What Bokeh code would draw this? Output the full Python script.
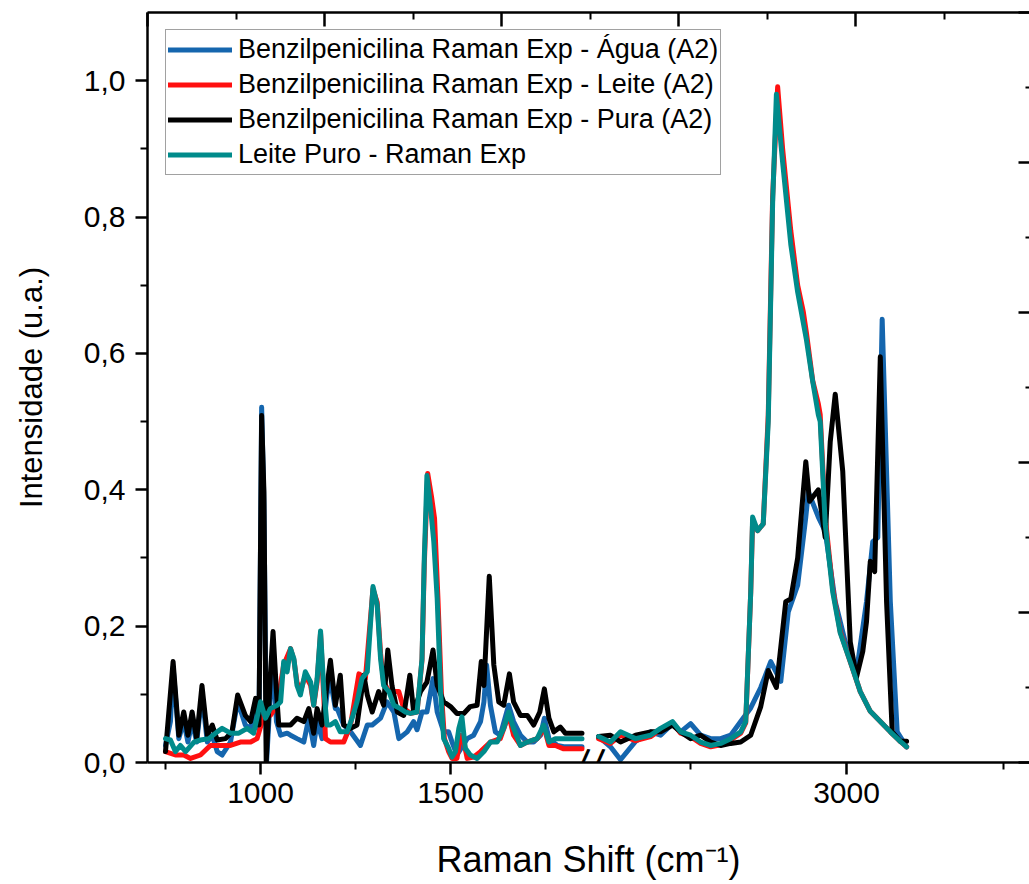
from bokeh.plotting import figure
from bokeh.models import (Range1d, LinearAxis, FixedTicker, CustomJSTickFormatter,
                          Label, Legend)
from bokeh.embed import file_html
from bokeh.resources import INLINE

# ---------------- data (Raman shift cm-1, intensity u.a.) ----------------
# left segment (fingerprint region)
agua_x_l = [750, 763, 770, 785, 798, 809, 820, 832, 846, 860, 873, 886, 899, 921, 940, 960, 974, 987, 996,
            1003, 1009, 1016, 1026, 1033, 1042, 1053, 1070, 1079, 1096, 1114, 1127, 1140, 1149, 1162, 1175,
            1184, 1197, 1202, 1219, 1237, 1263, 1281, 1294, 1316, 1333, 1351, 1364, 1386, 1403, 1412, 1425,
            1438, 1454, 1465, 1482, 1495, 1504, 1517, 1544, 1561, 1579, 1588, 1595, 1605, 1618, 1631, 1653,
            1666, 1684, 1702, 1719, 1737, 1747, 1759, 1781, 1798, 1846]
agua_y_l = [0.025, 0.060, 0.140, 0.035, 0.060, 0.030, 0.060, 0.030, 0.100, 0.030, 0.040, 0.016, 0.011, 0.030,
            0.090, 0.055, 0.050, 0.080, 0.050, 0.521, 0.380, 0.001, 0.100, 0.150, 0.060, 0.040, 0.043, 0.040,
            0.035, 0.030, 0.065, 0.025, 0.060, 0.035, 0.100, 0.120, 0.079, 0.079, 0.055, 0.045, 0.025, 0.055,
            0.055, 0.065, 0.089, 0.074, 0.035, 0.045, 0.060, 0.048, 0.074, 0.074, 0.123, 0.074, 0.045, 0.045,
            0.030, 0.011, 0.035, 0.040, 0.060, 0.089, 0.143, 0.084, 0.045, 0.040, 0.084, 0.060, 0.040, 0.030,
            0.030, 0.040, 0.065, 0.035, 0.025, 0.023, 0.023]

leite_x_l = [750, 776, 798, 816, 842, 868, 895, 921, 947, 974, 991, 1009, 1026, 1044, 1061, 1079, 1088, 1096,
             1105, 1118, 1132, 1140, 1149, 1158, 1167, 1171, 1184, 1202, 1219, 1237, 1259, 1276, 1296, 1307,
             1316, 1324, 1338, 1351, 1364, 1377, 1395, 1412, 1425, 1431, 1440, 1450, 1458, 1467, 1476, 1484,
             1495, 1504, 1517, 1526, 1535, 1544, 1561, 1579, 1605, 1631, 1653, 1666, 1684, 1702, 1728, 1747,
             1759, 1776, 1798, 1846]
leite_y_l = [0.016, 0.011, 0.011, 0.006, 0.011, 0.025, 0.025, 0.025, 0.030, 0.030, 0.035, 0.069, 0.069, 0.084,
             0.143, 0.167, 0.150, 0.118, 0.104, 0.128, 0.113, 0.084, 0.118, 0.190, 0.090, 0.035, 0.030, 0.030,
             0.030, 0.055, 0.130, 0.123, 0.255, 0.235, 0.160, 0.118, 0.104, 0.104, 0.104, 0.079, 0.072, 0.074,
             0.150, 0.290, 0.424, 0.390, 0.358, 0.240, 0.104, 0.035, 0.016, 0.006, 0.006, 0.040, 0.030, 0.006,
             0.008, 0.016, 0.030, 0.035, 0.070, 0.040, 0.025, 0.030, 0.035, 0.050, 0.025, 0.025, 0.020, 0.020]

pura_x_l = [750, 770, 785, 798, 809, 820, 832, 846, 860, 873, 886, 908, 925, 940, 960, 974, 987, 996, 1003,
            1009, 1015, 1026, 1033, 1042, 1048, 1061, 1079, 1096, 1114, 1127, 1140, 1149, 1162, 1175, 1184,
            1197, 1210, 1219, 1237, 1254, 1272, 1281, 1294, 1311, 1324, 1335, 1346, 1360, 1377, 1393, 1403,
            1421, 1438, 1454, 1465, 1482, 1500, 1517, 1535, 1552, 1570, 1581, 1588, 1602, 1614, 1627, 1640,
            1655, 1666, 1684, 1702, 1719, 1735, 1747, 1759, 1772, 1789, 1802, 1846]
pura_y_l = [0.016, 0.148, 0.040, 0.074, 0.040, 0.074, 0.035, 0.113, 0.040, 0.055, 0.033, 0.035, 0.045, 0.099,
            0.069, 0.060, 0.094, 0.055, 0.509, 0.397, 0.001, 0.128, 0.192, 0.104, 0.055, 0.055, 0.055, 0.065,
            0.060, 0.079, 0.043, 0.079, 0.055, 0.113, 0.150, 0.084, 0.128, 0.055, 0.050, 0.055, 0.128, 0.099,
            0.074, 0.104, 0.084, 0.165, 0.113, 0.074, 0.069, 0.128, 0.074, 0.104, 0.118, 0.165, 0.113, 0.089,
            0.082, 0.072, 0.072, 0.082, 0.084, 0.148, 0.113, 0.273, 0.143, 0.089, 0.084, 0.130, 0.089, 0.069,
            0.069, 0.055, 0.074, 0.108, 0.065, 0.045, 0.052, 0.043, 0.043]

leitepuro_x_l = [750, 763, 776, 789, 803, 825, 842, 864, 886, 899, 921, 943, 965, 982, 1000, 1013, 1026, 1044,
                 1053, 1061, 1070, 1079, 1088, 1096, 1105, 1118, 1132, 1140, 1149, 1158, 1167, 1175, 1184, 1197,
                 1210, 1228, 1241, 1254, 1267, 1281, 1296, 1307, 1316, 1324, 1338, 1351, 1368, 1381, 1395, 1412,
                 1425, 1431, 1438, 1447, 1456, 1465, 1474, 1482, 1495, 1504, 1513, 1522, 1530, 1539, 1552, 1570,
                 1588, 1605, 1623, 1640, 1653, 1666, 1684, 1702, 1728, 1745, 1759, 1776, 1798, 1846]
leitepuro_y_l = [0.035, 0.033, 0.016, 0.025, 0.016, 0.030, 0.033, 0.035, 0.045, 0.050, 0.043, 0.043, 0.050,
                 0.043, 0.089, 0.065, 0.079, 0.084, 0.089, 0.148, 0.133, 0.167, 0.152, 0.113, 0.099, 0.133,
                 0.118, 0.084, 0.123, 0.193, 0.104, 0.055, 0.055, 0.060, 0.045, 0.045, 0.065, 0.089, 0.123,
                 0.133, 0.258, 0.231, 0.152, 0.113, 0.104, 0.084, 0.079, 0.074, 0.072, 0.074, 0.152, 0.299,
                 0.421, 0.377, 0.324, 0.240, 0.104, 0.035, 0.021, 0.008, 0.016, 0.050, 0.067, 0.021, 0.011,
                 0.006, 0.016, 0.030, 0.030, 0.050, 0.074, 0.050, 0.025, 0.030, 0.035, 0.055, 0.030, 0.035,
                 0.035, 0.035]

# right segment (C-H stretching region)
agua_x_r = [2604, 2623, 2639, 2663, 2687, 2703, 2722, 2735, 2751, 2767, 2783, 2799, 2815, 2831, 2847, 2863,
            2879, 2895, 2907, 2922, 2935, 2939, 2955, 2966, 2982, 2998, 3016, 3032, 3042, 3050, 3057, 3070,
            3081, 3096]
agua_y_r = [0.038, 0.023, 0.004, 0.031, 0.045, 0.040, 0.057, 0.045, 0.057, 0.040, 0.035, 0.035, 0.040, 0.060,
            0.080, 0.110, 0.148, 0.119, 0.221, 0.260, 0.360, 0.397, 0.360, 0.339, 0.236, 0.177, 0.133, 0.236,
            0.324, 0.330, 0.650, 0.236, 0.045, 0.023]

leite_x_r = [2604, 2623, 2639, 2663, 2687, 2703, 2722, 2735, 2751, 2767, 2783, 2799, 2815, 2831, 2839, 2847,
             2850, 2858, 2867, 2875, 2882, 2890, 2898, 2911, 2922, 2931, 2936, 2946, 2955, 2958, 2966, 2978,
             2990, 3006, 3022, 3038, 3054, 3070, 3086, 3096]
leite_y_r = [0.035, 0.028, 0.040, 0.032, 0.038, 0.048, 0.058, 0.043, 0.038, 0.028, 0.023, 0.026, 0.033, 0.043,
             0.058, 0.250, 0.355, 0.340, 0.350, 0.510, 0.830, 0.991, 0.900, 0.780, 0.700, 0.661, 0.630, 0.560,
             0.526, 0.510, 0.360, 0.255, 0.192, 0.148, 0.104, 0.075, 0.060, 0.045, 0.031, 0.023]

pura_x_r = [2604, 2623, 2639, 2663, 2687, 2703, 2722, 2735, 2751, 2767, 2783, 2799, 2815, 2831, 2847, 2863,
            2875, 2888, 2903, 2911, 2922, 2935, 2941, 2955, 2966, 2974, 2982, 2994, 3006, 3016, 3026, 3032,
            3038, 3045, 3054, 3064, 3073, 3086, 3096]
pura_y_r = [0.038, 0.040, 0.030, 0.040, 0.045, 0.045, 0.055, 0.045, 0.035, 0.040, 0.030, 0.025, 0.028, 0.030,
            0.040, 0.082, 0.135, 0.110, 0.236, 0.240, 0.300, 0.441, 0.383, 0.400, 0.330, 0.470, 0.540, 0.427,
            0.177, 0.125, 0.163, 0.207, 0.295, 0.280, 0.595, 0.236, 0.045, 0.031, 0.031]

leitepuro_x_r = [2604, 2623, 2639, 2663, 2687, 2703, 2722, 2735, 2751, 2767, 2783, 2799, 2815, 2831, 2839,
                 2847, 2850, 2858, 2867, 2875, 2882, 2888, 2898, 2911, 2922, 2931, 2936, 2946, 2955, 2958,
                 2966, 2978, 2990, 3006, 3022, 3038, 3054, 3070, 3086, 3096]
leitepuro_y_r = [0.038, 0.030, 0.045, 0.035, 0.040, 0.050, 0.060, 0.045, 0.040, 0.030, 0.025, 0.028, 0.035,
                 0.045, 0.060, 0.250, 0.360, 0.340, 0.350, 0.500, 0.820, 0.980, 0.880, 0.760, 0.690, 0.645,
                 0.620, 0.559, 0.510, 0.500, 0.350, 0.250, 0.190, 0.148, 0.104, 0.075, 0.060, 0.045, 0.031,
                 0.023]

labels = ["Benzilpenicilina Raman Exp - Água (A2)",
          "Benzilpenicilina Raman Exp - Leite (A2)",
          "Benzilpenicilina Raman Exp - Pura (A2)",
          "Leite Puro - Raman Exp"]
colors = ["#1566AE", "#FF1010", "#000000", "#008B8B"]

left_major = [1000, 1500]
left_minor = [750, 1250, 1750]
right_major = [3000]
right_minor = [2750, 3250]
y_ticks = [0.0, 0.2, 0.4, 0.6, 0.8, 1.0]
y_minor = [0.1, 0.3, 0.5, 0.7, 0.9]
break_at = 1846      # end of left segment (left axis units)

# ---------------- layout constants ----------------
W_FIG, H_FIG = 1029, 884
LEFT, TOP, BOTTOM = 147, 12, 122
FRAME_W = W_FIG - LEFT
S_L = 0.38      # px per cm-1 (left segment)
S_R = 0.626     # px per cm-1 (right segment)
L0 = 1000 - 113 / S_L
L1 = L0 + FRAME_W / S_L
R0 = 3000 - 699 / S_R
R1 = R0 + FRAME_W / S_R

def r2l(v):
    return L0 + (v - R0) * S_R / S_L

FONT = "Liberation Sans"

p = figure(width=W_FIG, height=H_FIG, output_backend="svg", toolbar_location=None,
           x_range=Range1d(L0, L1), y_range=Range1d(0, 1.1),
           min_border_left=LEFT, min_border_top=TOP, min_border_bottom=BOTTOM, min_border_right=0)
p.extra_x_ranges = {"right": Range1d(R0, R1), "top": Range1d(0, FRAME_W / 177.0)}
p.extra_y_ranges = {"r": Range1d(0, 5)}
p.xgrid.visible = False
p.ygrid.visible = False
p.outline_line_color = None
p.background_fill_color = "white"
p.border_fill_color = "white"

series_l = [(agua_x_l, agua_y_l), (leite_x_l, leite_y_l), (pura_x_l, pura_y_l), (leitepuro_x_l, leitepuro_y_l)]
series_r = [(agua_x_r, agua_y_r), (leite_x_r, leite_y_r), (pura_x_r, pura_y_r), (leitepuro_x_r, leitepuro_y_r)]
items = []
for (xl, yl), (xr, yr), lab, col in zip(series_l, series_r, labels, colors):
    r1 = p.line(xl, yl, line_color=col, line_width=5, line_join="round", line_cap="round")
    p.line(xr, yr, line_color=col, line_width=5, line_join="round", line_cap="round", x_range_name="right")
    items.append((lab, [r1]))

legend = Legend(items=items, location=(18, 587))
legend.label_text_font = FONT
legend.label_text_font_size = "27px"
legend.label_text_color = "black"
legend.label_height = 35
legend.glyph_height = 35
legend.glyph_width = 64
legend.spacing = 0
legend.padding = 2
legend.margin = 0
legend.label_standoff = 6
legend.border_line_color = "#444444"
legend.border_line_width = 1
legend.background_fill_alpha = 1
p.add_layout(legend)

# bottom axis (broken)
xa = p.xaxis[0]
xa.ticker = FixedTicker(ticks=left_major + [r2l(v) for v in right_major],
                        minor_ticks=left_minor + [r2l(v) for v in right_minor])
xa.formatter = CustomJSTickFormatter(args=dict(p3=r2l(3000)),
                                     code="if (Math.abs(tick - p3) < 0.5) { return '3000'; } return tick.toFixed(0);")
xa.axis_label = "Raman Shift (cm\u207b\u00b9)"

ya = p.yaxis[0]
ya.ticker = FixedTicker(ticks=y_ticks, minor_ticks=y_minor)
ya.formatter = CustomJSTickFormatter(code="return tick.toFixed(1).replace('.', ',');")
ya.axis_label = "Intensidade (u.a.)"

for ax in (xa, ya):
    ax.axis_line_width = 2.5
    ax.axis_line_color = "black"
    ax.major_tick_line_width = 2.5
    ax.minor_tick_line_width = 2
    ax.major_tick_line_color = "black"
    ax.minor_tick_line_color = "black"
    ax.major_tick_in = 0
    ax.major_tick_out = 12
    ax.minor_tick_in = 0
    ax.minor_tick_out = 7
    ax.major_label_text_font = FONT
    ax.major_label_text_font_size = "30px"
    ax.major_label_text_color = "black"
    ax.axis_label_text_font = FONT
    ax.axis_label_text_font_style = "normal"
    ax.axis_label_text_color = "black"
xa.major_label_standoff = 8
xa.axis_label_standoff = 33
xa.axis_label_text_font_size = "36px"
ya.major_label_standoff = 10
ya.axis_label_standoff = 32
ya.axis_label_text_font_size = "31px"

# top axis (ticks only, inward)
top = LinearAxis(x_range_name="top", ticker=FixedTicker(ticks=[0, 1, 2, 3, 4, 5], minor_ticks=[0.5, 1.5, 2.5, 3.5, 4.5]),
                 formatter=CustomJSTickFormatter(code="return '';"))
top.major_label_text_font_size = "1px"
top.major_label_standoff = 0
top.major_tick_in = 14
top.major_tick_out = 0
top.minor_tick_in = 7
top.minor_tick_out = 0
top.axis_line_width = 2.5
top.major_tick_line_width = 2.5
top.minor_tick_line_width = 2
p.add_layout(top, "above")

# right axis (ticks only, inward)
right = LinearAxis(y_range_name="r", ticker=FixedTicker(ticks=[0, 1, 2, 3, 4, 5], minor_ticks=[0.5, 1.5, 2.5, 3.5, 4.5]),
                   formatter=CustomJSTickFormatter(code="return '';"))
right.major_label_text_font_size = "1px"
right.major_label_standoff = 0
right.major_tick_in = 11
right.major_tick_out = 0
right.minor_tick_in = 4
right.minor_tick_out = 0
right.axis_line_color = None
right.major_tick_line_width = 2.5
right.minor_tick_line_width = 2
p.add_layout(right, "right")

# axis break marks "//" (text, not clipped by the frame)
for dx in (0.5, 15.5):
    p.add_layout(Label(x=break_at + dx / S_L, y=0, text="/",
                       text_font=FONT, text_font_size="40px", text_color="black",
                       text_align="center", text_baseline="middle", angle=-0.15, y_offset=-1))

open("out.html", "w").write(file_html(p, INLINE))
